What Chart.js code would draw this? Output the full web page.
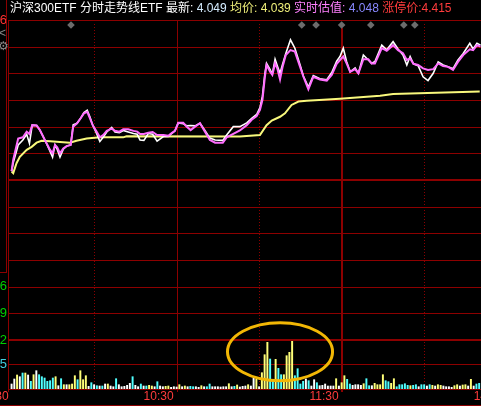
<!DOCTYPE html>
<html>
<head>
<meta charset="utf-8">
<script src="https://cdn.jsdelivr.net/npm/chart.js@4.4.1/dist/chart.umd.min.js"></script>
<style>
  html, body { margin: 0; padding: 0; background: #000; width: 481px; height: 406px; overflow: hidden; }
  #wrap { position: relative; width: 481px; height: 406px; overflow: hidden; }
  #chart { position: absolute; left: 0; top: 0; }
  #title { position: absolute; left: 10px; top: 0; height: 18px; line-height: 17px; white-space: pre;
           font-size: 12px; font-family: "Liberation Sans", Arial, "Noto Sans CJK SC", sans-serif; color: #fff; }
</style>
</head>
<body>
<div id="wrap">
  <canvas id="chart" width="700" height="406"></canvas>
  <div id="title"></div>
</div>
<script>
// header values
const prevClose = 4.014;
const lastPrice = 4.049;
const avgPrice = 4.039;
const estPrice = 4.048;
const limitUp = 4.415;

// axes
const priceTicks = [3.972, 3.979, 3.986, 3.993, 4.000, 4.007, 4.014, 4.021, 4.028, 4.035, 4.042, 4.049, 4.056];
const timeTicks = [0, 60, 120, 180, 240];
const timeLabels = ['9:30', '10:30', '11:30', '14:00', '15:00'];
const gridMinutes = [30, 60, 90, 120, 150, 180, 210, 240];
const volTick = 25;

// minutes after 9:30
const lineTime = [0, 0.6, 2.4, 4.1, 5.5, 6.5, 7.5, 9.1, 10.3, 12.1,
  14.0, 14.9, 15.8, 16.6, 17.6, 18.8, 20.0, 21.5, 22.4, 23.8,
  25.1, 26.3, 27.5, 28.5, 29.5, 30.9, 32.1, 33.3, 34.6, 36.4,
  37.6, 39.2, 40.6, 42.4, 44.3, 45.7, 46.7, 48.1, 49.7, 51.3,
  52.9, 55.2, 57.0, 58.2, 59.4, 60.6, 62.4, 63.7, 65.1, 66.7,
  68.5, 70.3, 72.1, 74.0, 76.8, 78.2, 80.6, 83.0, 85.5, 87.3,
  89.1, 90.3, 91.2, 92.1, 92.7, 94.0, 94.8, 95.8, 96.6, 97.6,
  98.5, 99.7, 101.4, 103.0, 104.9, 106.1, 107.9, 109.7, 112.1, 114.6,
  116.4, 118.2, 119.4, 120.6, 121.8, 123.1, 124.9, 126.1, 127.9, 129.7,
  130.9, 132.1, 134.6, 136.4, 138.7, 140.5, 142.3, 143.7, 144.9, 146.1,
  147.8, 149.6, 151.4, 153.3, 155.1, 156.9, 158.7, 160.5, 162.3, 164.2,
  166.6, 167.8, 169.2, 170.5];

// 实时估值 (pink)
const estVals = [4.0163, 4.0193, 4.0249, 4.0252, 4.0267, 4.0261, 4.0284, 4.0283, 4.0271, 4.0245,
  4.0219, 4.0210, 4.0232, 4.0226, 4.0210, 4.0223, 4.0229, 4.0232, 4.0280, 4.0289,
  4.0302, 4.0315, 4.0319, 4.0302, 4.0284, 4.0267, 4.0252, 4.0258, 4.0269, 4.0275,
  4.0269, 4.0267, 4.0273, 4.0273, 4.0269, 4.0267, 4.0261, 4.0261, 4.0264, 4.0266,
  4.0258, 4.0258, 4.0256, 4.0263, 4.0269, 4.0290, 4.0290, 4.0280, 4.0271, 4.0280,
  4.0289, 4.0267, 4.0245, 4.0238, 4.0238, 4.0252, 4.0261, 4.0270, 4.0284, 4.0298,
  4.0308, 4.0324, 4.0350, 4.0411, 4.0442, 4.0424, 4.0416, 4.0446, 4.0433, 4.0404,
  4.0436, 4.0468, 4.0481, 4.0477, 4.0437, 4.0411, 4.0378, 4.0411, 4.0404, 4.0401,
  4.0416, 4.0445, 4.0455, 4.0464, 4.0446, 4.0424, 4.0431, 4.0420, 4.0457, 4.0457,
  4.0446, 4.0446, 4.0486, 4.0479, 4.0494, 4.0481, 4.0473, 4.0455, 4.0459, 4.0445,
  4.0442, 4.0433, 4.0429, 4.0431, 4.0446, 4.0439, 4.0437, 4.0429, 4.0450, 4.0468,
  4.0483, 4.0481, 4.0494, 4.0490];

// 最新价 (white)
const lastVals = [4.0163, 4.0185, 4.0232, 4.0245, 4.0260, 4.0236, 4.0284, 4.0283, 4.0271, 4.0245,
  4.0215, 4.0200, 4.0232, 4.0220, 4.0200, 4.0221, 4.0229, 4.0232, 4.0285, 4.0289,
  4.0302, 4.0317, 4.0323, 4.0305, 4.0284, 4.0262, 4.0241, 4.0252, 4.0266, 4.0278,
  4.0266, 4.0264, 4.0270, 4.0266, 4.0262, 4.0260, 4.0245, 4.0244, 4.0262, 4.0260,
  4.0242, 4.0254, 4.0254, 4.0262, 4.0269, 4.0290, 4.0288, 4.0282, 4.0283, 4.0282,
  4.0289, 4.0270, 4.0250, 4.0245, 4.0244, 4.0258, 4.0280, 4.0280, 4.0290, 4.0302,
  4.0312, 4.0330, 4.0360, 4.0420, 4.0446, 4.0430, 4.0418, 4.0457, 4.0440, 4.0420,
  4.0443, 4.0472, 4.0508, 4.0486, 4.0442, 4.0413, 4.0384, 4.0414, 4.0406, 4.0403,
  4.0422, 4.0452, 4.0464, 4.0486, 4.0451, 4.0424, 4.0434, 4.0420, 4.0468, 4.0455,
  4.0446, 4.0451, 4.0494, 4.0482, 4.0503, 4.0484, 4.0468, 4.0442, 4.0464, 4.0445,
  4.0440, 4.0411, 4.0401, 4.0420, 4.0450, 4.0442, 4.0437, 4.0432, 4.0455, 4.0472,
  4.0499, 4.0484, 4.0499, 4.0494];

// 均价 (yellow)
const avgTime = [0, 0.6, 1.8, 3.0, 5.5, 7.3, 9.1, 10.9, 14.0, 17.6, 21.2, 23.6, 27.3, 32.1, 40.6,
  41.8, 83.0, 90.3, 92.7, 94.6, 97.6, 99.4, 101.8, 104.3, 107.3, 119.4, 134.0, 138.7, 170.2];
const avgVals = [4.0162, 4.0158, 4.0184, 4.0201, 4.0219, 4.0227, 4.0238, 4.0243, 4.0242, 4.0240,
  4.0238, 4.0243, 4.0249, 4.0252, 4.0252, 4.0255, 4.0254, 4.0258, 4.0284, 4.0296, 4.0306,
  4.0315, 4.0337, 4.0346, 4.0348, 4.0353, 4.0361, 4.0366, 4.0372];

// volume per minute from 9:30, and bar colour code (w flat, y up, c down)
const volume = [5, 10, 14, 12.3, 16, 16, 14, 7.7, 14.3, 18.3,
  14.3, 12.3, 11, 7.7, 8.3, 11, 12.3, 3.3, 10.3, 4.3,
  4.3, 4.3, 5, 13.3, 9.3, 18.3, 9.3, 13.3, 2.7, 6.3,
  4.3, 3.3, 3, 3, 5, 5, 3, 2.3, 10.3, 4.3,
  2.3, 2.7, 3.7, 5.7, 12.3, 3.7, 2.3, 5, 3, 3,
  3.7, 3, 2.3, 7.3, 3, 2.3, 2.7, 3, 1.7, 2.3,
  2, 4.3, 2.3, 3, 2.3, 2.7, 2.3, 2.3, 1.7, 3.3,
  2.3, 2.3, 5, 2.3, 2.3, 2.3, 2, 2.3, 2.3, 5.3,
  2.3, 2.7, 4, 2,
  2.7, 3, 4.3, 3, 11, 10, 2.3, 16.3, 34.3, 46.7,
  30, 8.3, 29.7, 20.7, 14.3, 14.3, 33.3, 36.7, 47.7, 13.3,
  20.3, 5, 7.7, 10, 8.3, 3, 9.3, 6.3, 3.3, 3.7,
  5, 3, 3, 3, 10.3, 3, 6.3, 13.3, 9.7, 5,
  3.7, 4.3, 4.3, 3.7, 5.3, 10.3, 3.3, 3.3, 5.7, 4.3,
  4.3, 14.3, 8.3, 7.3, 5.7, 10.3, 2.3, 4.3, 4.3, 5.3,
  3.7, 3.3, 3.7, 4.3, 2.3, 4.3, 4.3, 3, 4.3, 3.7,
  3, 4.3, 3.7, 3, 2.3, 2.3, 1.7, 3.3, 4.3, 3,
  4, 4.3, 3, 9.7, 3, 5, 5.7];
const volDir = ('wwywcywcyw' + 'ccccccywcy' + 'wyyycyyywc' + 'wcwcwywwcw' + 'wwwwcwwcwc' +
  'yywcwwyyww' + 'wywywccwwy' + 'wccwwwwwwy' + 'wcy' + 'w' +
  'wwywwywyyy' + 'ccyccyyyyc' + 'cccwcwwcww' + 'wwwwywyycc' + 'wwwwyccwyy' +
  'yyccyycccc' + 'cyccwccwcy' + 'wyywwwwyyw' + 'yywywcc').split('');

// event markers on top row
const eventTime = [21.6, 105.5, 110.7, 120.0, 130.6, 142.6, 146.6];

const gridColor = '#8c0000';
const dirColor = { w: '#ffffff', y: '#ffff78', c: '#50ffff' };
const font = '"Liberation Sans", Arial, sans-serif';

// price pane 20..340, volume pane 340..389
const priceMax = priceTicks[priceTicks.length - 1];
const priceMin = priceMax - (priceMax - priceTicks[0]) * 369 / 320;

document.getElementById('title').innerHTML =
  '<span>沪深300ETF 分时走势线ETF 最新: </span>' +
  '<span style="color:#d4ecff">' + lastPrice.toFixed(3) + '</span> ' +
  '<span style="color:#f0f07a">均价: ' + avgPrice.toFixed(3) + '</span> ' +
  '<span style="color:#ff80ff">实时估值: </span>' +
  '<span style="color:#8888ff">' + estPrice.toFixed(3) + '</span> ' +
  '<span style="color:#ff3c3c">涨停价:' + limitUp.toFixed(3) + '</span>';

function hline(ctx, y, w, x0, x1, dash) {
  const p = w % 2 ? Math.round(y) + 0.5 : Math.round(y);
  ctx.lineWidth = w;
  ctx.setLineDash(dash || []);
  ctx.beginPath(); ctx.moveTo(x0, p); ctx.lineTo(x1, p); ctx.stroke();
}
function vline(ctx, x, w, y0, y1, dash) {
  const p = w % 2 ? Math.round(x) + 0.5 : Math.round(x);
  ctx.lineWidth = w;
  ctx.setLineDash(dash || []);
  ctx.beginPath(); ctx.moveTo(p, y0); ctx.lineTo(p, y1); ctx.stroke();
}

const frame = {
  id: 'frame',
  beforeDraw(chart) {
    const { ctx, width, height } = chart;
    ctx.save();
    ctx.fillStyle = '#000';
    ctx.fillRect(0, 0, width, height);
    ctx.restore();
  },
  beforeDatasetsDraw(chart) {
    const { ctx, chartArea: a, scales } = chart;
    const x = scales.x, yP = scales.yPrice, yV = scales.yVol;
    ctx.save();
    ctx.strokeStyle = gridColor;
    priceTicks.forEach(v => {
      const thick = v === prevClose || v === priceTicks[0];
      hline(ctx, yP.getPixelForValue(v), thick ? 2 : 1, a.left, chart.width);
    });
    hline(ctx, yV.getPixelForValue(volTick), 1, a.left, chart.width);
    hline(ctx, yV.getPixelForValue(0), 1, a.left, chart.width);
    gridMinutes.forEach(m => {
      const px = x.getPixelForValue(m);
      if (m % 60 === 30) vline(ctx, px, 1, a.top + 4, a.bottom, [1, 2]);
      else if (m === 120) vline(ctx, px, 2, a.top + 8, a.bottom + 3);
      else vline(ctx, px, 1, a.top, a.bottom + 3);
    });
    vline(ctx, a.left, 1, a.top, a.bottom + 3);
    ctx.restore();
  },
  afterDatasetsDraw(chart) {
    const { ctx, scales } = chart;
    const x = scales.x, yV = scales.yVol;
    // highlight ring around the volume burst
    const cx = x.getPixelForValue(97.6), cy = yV.getPixelForValue(37.3);
    const rx = x.getPixelForValue(97.6 + 19.1) - cx, ry = yV.getPixelForValue(37.3 - 29) - cy;
    ctx.save();
    ctx.strokeStyle = '#f2b705';
    ctx.lineWidth = 3;
    ctx.beginPath();
    ctx.ellipse(cx, cy, rx, ry, 0, 0, Math.PI * 2);
    ctx.stroke();
    ctx.restore();
  },
  afterDraw(chart) {
    const { ctx, scales } = chart;
    const yV = scales.yVol;
    ctx.save();
    // side tool panel
    ctx.fillStyle = '#000';
    ctx.fillRect(0, 27, 7, 245);
    ctx.strokeStyle = gridColor;
    vline(ctx, 6, 1, 0, 273);
    hline(ctx, 272, 1, 0, 7);
    ctx.fillStyle = '#8a8a8a';
    ctx.font = '12px ' + font;
    ctx.textBaseline = 'middle';
    ctx.textAlign = 'left';
    ctx.fillText('<', -1, 34);
    ctx.font = '12px "DejaVu Sans"';
    ctx.fillText('⚙', -2, 47);
    // volume label
    ctx.fillStyle = '#40d0e0';
    ctx.font = '13px ' + font;
    ctx.textAlign = 'right';
    ctx.fillText(String(volTick), 7, yV.getPixelForValue(volTick));
    // bottom frame
    hline(ctx, 405, 1, 0, chart.width);
    ctx.restore();
  }
};

new Chart(document.getElementById('chart'), {
  type: 'bar',
  data: {
    datasets: [
      {
        type: 'line', label: '事件', yAxisID: 'yEv',
        data: eventTime.map(t => ({ x: t, y: 5 })),
        showLine: false, pointStyle: 'rectRot', pointRadius: 3.8,
        pointBackgroundColor: '#6c6c6c', pointBorderWidth: 0, order: 0
      },
      {
        type: 'line', label: '实时估值', yAxisID: 'yPrice',
        data: lineTime.map((t, i) => ({ x: t, y: estVals[i] })),
        borderColor: '#ff6eff', borderWidth: 2, pointRadius: 0, tension: 0, order: 1
      },
      {
        type: 'line', label: '最新', yAxisID: 'yPrice',
        data: lineTime.map((t, i) => ({ x: t, y: lastVals[i] })),
        borderColor: '#ffffff', borderWidth: 1.6, pointRadius: 0, tension: 0, order: 2
      },
      {
        type: 'line', label: '均价', yAxisID: 'yPrice',
        data: avgTime.map((t, i) => ({ x: t, y: avgVals[i] })),
        borderColor: '#f8f87c', borderWidth: 2, pointRadius: 0, tension: 0, order: 3
      },
      {
        type: 'bar', label: '成交量', yAxisID: 'yVol',
        data: volume.map((v, i) => ({ x: i, y: v })),
        backgroundColor: volDir.map(d => dirColor[d]),
        barThickness: 1.3, borderWidth: 0, order: 4
      }
    ]
  },
  options: {
    responsive: false,
    animation: false,
    events: [],
    layout: { padding: { left: 0, top: 20, right: 25, bottom: 0 } },
    plugins: { legend: { display: false }, tooltip: { enabled: false } },
    scales: {
      x: {
        type: 'linear', min: -1.3, max: 241.2, offset: false,
        grid: { display: false, drawTicks: false }, border: { display: false },
        ticks: {
          color: '#ff3c3c', font: { size: 12, family: font }, align: 'end', labelOffset: -3,
          padding: 0, maxRotation: 0, autoSkip: false,
          callback: v => { const i = timeTicks.indexOf(v); return i < 0 ? '' : timeLabels[i]; }
        },
        afterBuildTicks: s => { s.ticks = timeTicks.map(v => ({ value: v })); },
        afterFit: s => { s.height = 17; s.paddingLeft = 0; s.paddingRight = 0; }
      },
      yPrice: {
        type: 'linear', position: 'left', min: priceMin, max: priceMax,
        grid: { display: false, drawTicks: false }, border: { display: false },
        ticks: {
          font: { size: 13, family: font }, padding: 1, autoSkip: false,
          color: c => c.tick.value > prevClose ? '#ff3232' : (c.tick.value < prevClose ? '#00d000' : '#ffffff'),
          callback: v => Number(v).toFixed(3)
        },
        afterBuildTicks: s => { s.ticks = priceTicks.map(v => ({ value: v })); },
        afterFit: s => { s.width = 8; s.paddingTop = 0; s.paddingBottom = 0; }
      },
      yVol: { type: 'linear', display: false, min: 0, max: 369 },
      yEv: { type: 'linear', display: false, min: 0, max: 369, reverse: true }
    }
  },
  plugins: [frame]
});
</script>
</body>
</html>
